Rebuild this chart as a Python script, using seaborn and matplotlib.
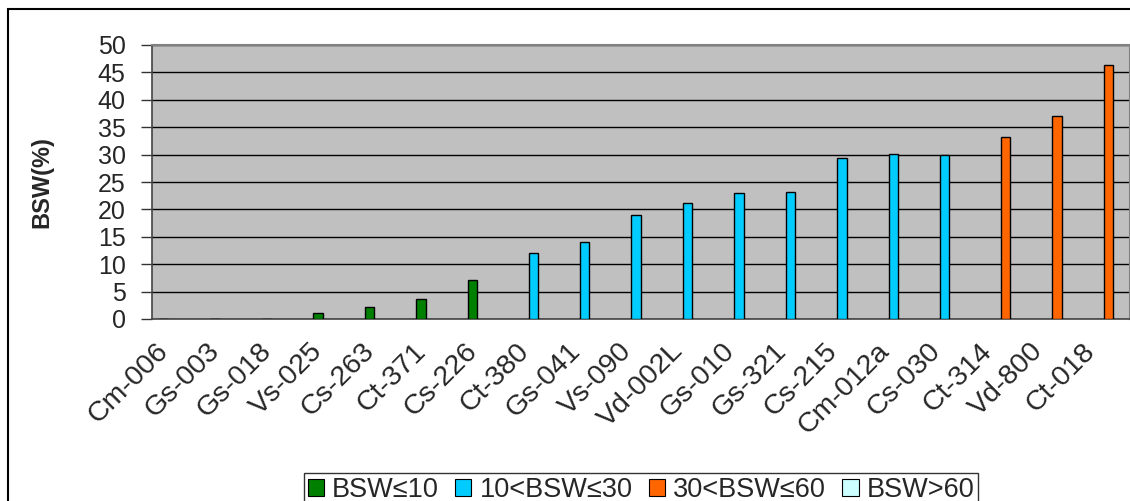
import matplotlib
matplotlib.use("Agg")
import matplotlib.pyplot as plt
import matplotlib.transforms as mtransforms
import seaborn as sns
import pandas as pd
import numpy as np
from matplotlib.patches import Patch, Rectangle
from matplotlib.ticker import FixedLocator, MultipleLocator

categories = ["Cm-006", "Gs-003", "Gs-018", "Vs-025", "Cs-263", "Ct-371", "Cs-226",
              "Ct-380", "Gs-041", "Vs-090", "Vd-002L", "Gs-010", "Gs-321", "Cs-215",
              "Cm-012a", "Cs-030", "Ct-314", "Vd-800", "Ct-018"]
bsw = [0, 0, 0, 1.1, 2.2, 3.6, 7.2,
       12.0, 14.1, 19.0, 21.2, 23.0, 23.1, 29.4,
       30.1, 30.0, 33.2, 37.0, 46.3]
groups = ["BSW≤10"] * 7 + ["10<BSW≤30"] * 9 + ["30<BSW≤60"] * 3
hue_levels = ["BSW≤10", "10<BSW≤30", "30<BSW≤60", "BSW>60"]
colors = ["#008000", "#00CCFF", "#FF6600", "#CCFFFF"]

df = pd.DataFrame({"sample": categories, "BSW": bsw, "class": groups})

sns.set_theme(style="white")
plt.rcParams["font.family"] = ["Liberation Sans", "DejaVu Sans"]

fig = plt.figure(figsize=(11.3, 5.01), dpi=100)
ax = fig.add_axes([152 / 1130, 1 - 319 / 501, 977.5 / 1130, (319 - 45) / 501])
ax.set_facecolor("#C0C0C0")

sns.barplot(data=df, x="sample", y="BSW", hue="class", hue_order=hue_levels,
            order=categories, palette=dict(zip(hue_levels, colors)),
            width=4 / 5.5, dodge=True, edgecolor="black", linewidth=1,
            legend=False, ax=ax, zorder=3, saturation=1)

ax.set_xlim(-0.5, len(categories) - 0.5)
ax.set_ylim(0, 50)
ax.yaxis.set_major_locator(MultipleLocator(5))
ax.grid(axis="y", color="black", linewidth=1, zorder=1)
ax.set_axisbelow(True)

ax.set_xlabel("")
ax.set_ylabel("BSW(%)", fontsize=17, fontweight="bold", labelpad=32)

# category boundary ticks
ax.xaxis.set_minor_locator(FixedLocator(np.arange(-0.5, len(categories), 1)))
ax.tick_params(axis="x", which="minor", length=8, width=1, color="#333333", direction="out")
ax.tick_params(axis="x", which="major", length=0, pad=16, labelsize=20.5)
shift = mtransforms.ScaledTranslation(-0.13, -0.06, fig.dpi_scale_trans)
for lab in ax.get_xticklabels():
    lab.set_rotation(45)
    lab.set_ha("right")
    lab.set_va("center")
    lab.set_rotation_mode("anchor")
    lab.set_transform(lab.get_transform() + shift)
ax.tick_params(axis="y", which="major", length=8, width=1, color="#333333",
               direction="out", labelsize=18, pad=11, left=True)

for side in ["left", "bottom"]:
    ax.spines[side].set_color("#444444")
    ax.spines[side].set_linewidth(1.2)
ax.spines["top"].set_color("#808080")
ax.spines["top"].set_linewidth(1.5)
ax.spines["right"].set_color("#808080")
ax.spines["right"].set_linewidth(1.5)

handles = [Patch(facecolor=c, edgecolor="black", linewidth=0.8) for c in colors]
fig.legend(handles, hue_levels, loc="upper center",
           bbox_to_anchor=(641 / 1130, 1 - 473 / 501), ncol=4, frameon=True,
           fontsize=19.5, handlelength=0.6, handleheight=0.6, handletextpad=0.3,
           columnspacing=0.6, borderpad=0.15, borderaxespad=0, fancybox=False,
           edgecolor="black")

# outer chart frame
fig.patches.append(Rectangle((8 / 1130, -0.2), 1.2, 1 - 9 / 501 + 0.2,
                             transform=fig.transFigure, fill=False,
                             edgecolor="black", linewidth=1.5, zorder=0))

fig.savefig("out.png", dpi=100, facecolor="white")
